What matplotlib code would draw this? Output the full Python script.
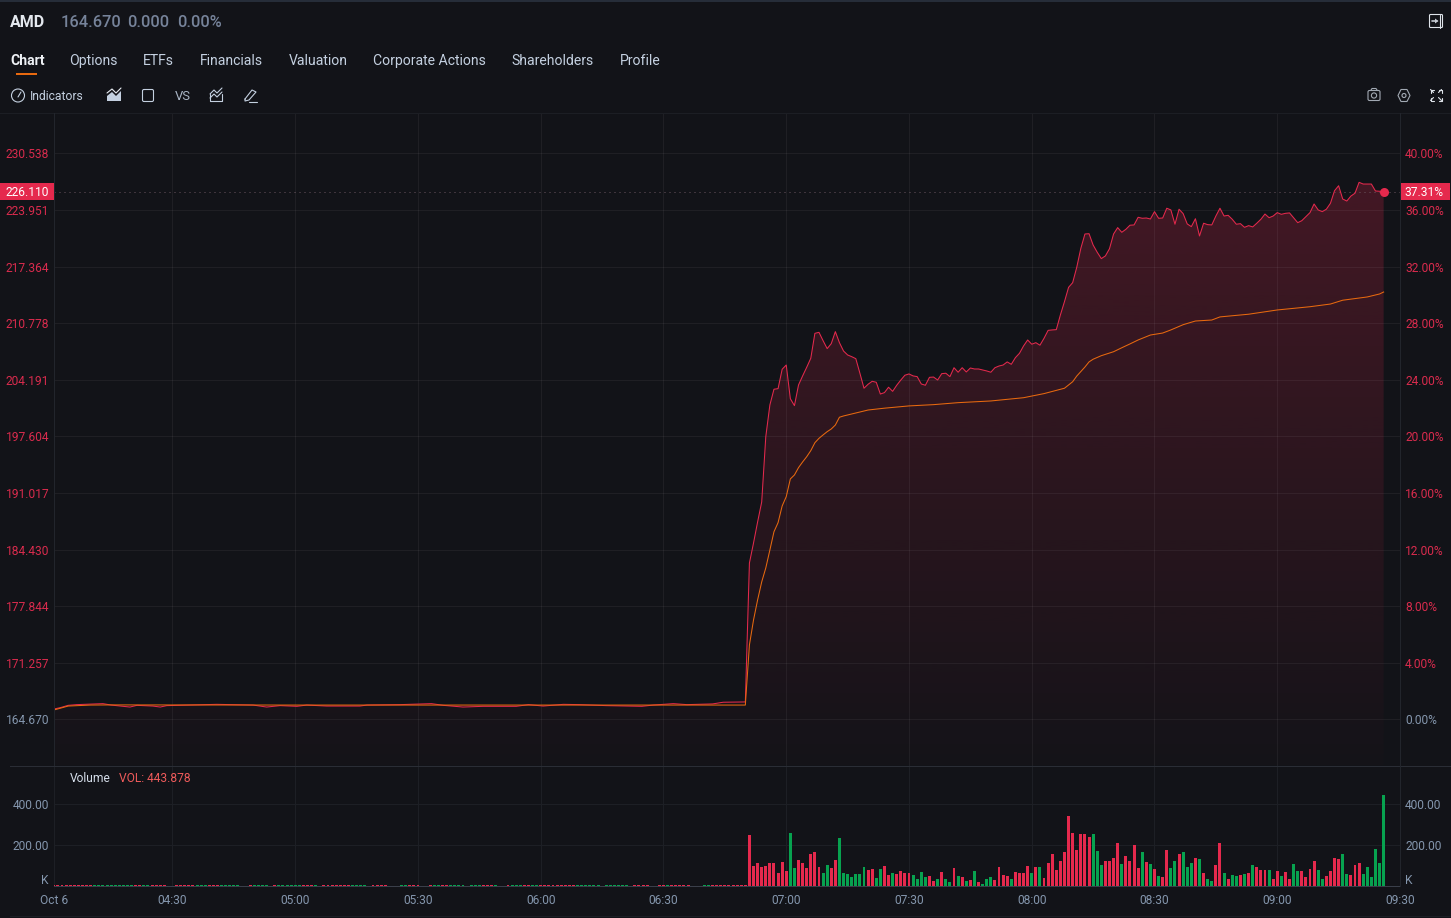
import matplotlib
matplotlib.use("Agg")
import matplotlib.pyplot as plt
from matplotlib.patches import Circle, FancyBboxPatch, Polygon, Rectangle
import numpy as np

W, H = 1451, 918
BG = "#121318"
RED = "#e5294d"
GREEN = "#07a24f"
ORANGE = "#e8690f"
GRID = "#1d1f25"
MUTED = "#8496ad"
TAB = "#c4d0e0"

plt.rcParams["font.family"] = ["Roboto", "DejaVu Sans"]

# times are minutes since midnight
tick_minutes = [241.04, 270, 300, 330, 360, 390, 420, 450, 480, 510, 540, 570]
tick_times = ["Oct 6", "04:30", "05:00", "05:30", "06:00", "06:30", "07:00", "07:30", "08:00", "08:30", "09:00", "09:30"]

pct_ticks = [0, 4, 8, 12, 16, 20, 24, 28, 32, 36, 40]
pct_labels = ["0.00%", "4.00%", "8.00%", "12.00%", "16.00%", "20.00%", "24.00%", "28.00%", "32.00%", "36.00%", "40.00%"]
price_labels = ["164.670", "171.257", "177.844", "184.430", "191.017", "197.604", "204.191", "210.778", "217.364", "223.951", "230.538"]

# premarket price, % change
pre_minutes = [241, 242.5, 244.5, 246.6, 253, 255, 259.6, 261.3, 265.2, 267, 268.6, 280.8, 289.7,
               293, 296.3, 300.4, 302.8, 307.7, 315.8, 317.5, 325.6, 333.3, 336.2, 341, 345.9,
               354, 357, 360.6, 365.5, 369.5, 376, 381.7, 384.7, 387.5, 392.4, 395.7, 402, 404.6, 410]
pre_price = [0.74, 0.83, 1.00, 1.05, 1.12, 1.02, 0.88, 1.00, 0.95, 0.88, 0.98, 1.07, 1.02,
             0.88, 0.98, 0.93, 1.02, 0.95, 0.95, 1.02, 1.05, 1.12, 1.00, 0.88, 0.93,
             0.93, 1.05, 0.95, 1.07, 1.05, 0.98, 0.95, 0.93, 1.02, 1.12, 1.05, 1.10, 1.22, 1.24]

# one value a minute from 06:51
price = [11.06, 12.47, 13.96, 15.37, 19.99, 22.23, 23.34, 23.38, 24.75, 25.05,
         22.67, 22.18, 23.64, 24.28, 24.89, 25.53, 27.29, 27.36, 26.77, 26.21,
         26.56, 27.41, 26.63, 26.04, 25.76, 25.64, 25.50, 24.47, 23.41, 23.69,
         23.90, 23.83, 23.00, 23.10, 23.48, 23.19, 23.62, 23.99, 24.33, 24.42,
         24.28, 24.23, 23.71, 23.62, 24.18, 24.20, 23.99, 24.44, 24.47, 24.23,
         24.86, 24.54, 24.86, 24.56, 24.84, 24.77, 24.77, 24.70, 24.63, 24.54,
         24.86, 24.98, 25.05, 25.27, 25.10, 25.57, 25.88, 26.40, 26.82, 26.52,
         26.63, 26.45, 26.94, 27.50, 27.53, 27.55, 28.59, 29.53, 30.54, 30.87,
         31.96, 33.30, 34.31, 34.33, 33.53, 33.02, 32.57, 32.76, 33.27, 34.31,
         34.76, 34.43, 34.64, 34.93, 34.95, 35.49, 35.42, 35.44, 35.37, 35.89,
         35.42, 35.44, 36.13, 36.01, 35.00, 36.06, 35.75, 35.02, 34.83, 35.39,
         34.17, 35.07, 34.97, 34.95, 35.58, 36.13, 35.58, 35.63, 35.35, 35.00,
         35.04, 34.78, 34.90, 34.81, 35.07, 35.35, 35.72, 35.46, 35.58, 35.82,
         35.70, 35.77, 35.80, 35.46, 35.11, 35.25, 35.53, 35.82, 36.43, 36.01,
         35.89, 36.06, 36.48, 37.37, 37.72, 36.78, 36.64, 36.99, 37.19, 37.96,
         37.84, 37.84, 37.84, 37.35, 37.33, 37.31]
price_minutes = np.arange(411, 411 + len(price))

vwap_minutes = [241, 244.5, 250, 255, 300, 360, 410,
                411, 412, 413, 414, 415, 416, 417, 418, 419, 420, 421, 422, 423, 424, 425, 426,
                427, 428, 429, 430, 431, 432, 433, 434, 437, 440, 444, 450, 456, 462, 470, 478,
                483, 488, 490, 491, 493, 494, 495, 497, 500, 502, 504, 506, 509, 512, 514, 517,
                520, 524, 526, 533, 540, 548, 553, 556, 562, 565, 566]
vwap = [0.67, 0.95, 1.02, 1.03, 1.02, 1.02, 1.02,
        5.27, 7.03, 8.45, 9.72, 10.71, 11.98, 13.27, 13.91, 15.09, 15.75, 17.00, 17.28, 17.80, 18.20, 18.57, 19.00,
        19.56, 19.87, 20.11, 20.34, 20.53, 20.81, 21.36, 21.45, 21.66, 21.87, 22.00, 22.16, 22.25, 22.39, 22.51, 22.74,
        23.03, 23.41, 23.87, 24.27, 24.91, 25.27, 25.46, 25.71, 25.99, 26.27, 26.54, 26.82, 27.17, 27.31, 27.53, 27.90,
        28.16, 28.23, 28.45, 28.64, 28.94, 29.17, 29.36, 29.63, 29.86, 30.07, 30.21]

# volume in K, one bar a minute from 06:51
volume = [250, 98, 111, 93, 98, 114, 112, 62, 115, 75,
          259, 88, 125, 112, 88, 156, 166, 94, 63, 101,
          88, 125, 236, 62, 59, 46, 60, 60, 93, 78,
          81, 39, 81, 96, 55, 62, 57, 73, 62, 63,
          54, 33, 67, 44, 50, 24, 36, 67, 33, 20,
          86, 50, 42, 26, 31, 72, 21, 10, 34, 42,
          29, 91, 55, 49, 33, 68, 63, 63, 99, 65,
          94, 91, 39, 111, 156, 78, 124, 167, 340, 259,
          176, 255, 255, 237,
          254, 169, 102, 122, 122, 138, 210, 109, 145, 124,
          198, 88, 166, 119, 107, 85, 49, 46, 176, 88,
          122, 156, 164, 93, 114, 137, 130, 65, 34, 24,
          104, 211, 65, 34, 54, 49, 52, 59, 65, 101,
          93, 78, 80, 78, 33, 75, 49, 70, 33, 107,
          75, 72, 42, 83, 122, 78, 33, 49, 72, 135,
          132, 154, 60, 54, 102, 111, 59, 91, 44, 180,
          112, 444]
volume_dirs = ("RRRRRRRRRR" "GGRRRRRRGG" "RRGGGGGGGR" "RGGRRGRRRR" "GGGGRRGRGG"
               "RGRGRGRGGG" "RRRRGRRRRG" "RGRRRRRRRR" "RRRR"
               "GGGRRRRGRR" "RRGRGRGRRG" "GRGGGRGRGG" "RRGRGGRGRG" "RRRGRRGRRG"
               "GRRRRGGRRR" "RGGRRRGGGG" "GG")
# premarket bars from 04:01, all about the same small size, '.' is no trade
pre_volume_k = 6
pre_dirs = ("RRRRRRRRRR" "GGGGGGGGGG" "RRGGRRRR.." "RRRRRGGGRR" "RGGGGG..RG"
            "GGG.RGGGGG" "GRRRG.RRRR" "RRRGGGG.RR" "RR...GGRRR" "..RGGRRGGG"
            "G.GGGRRRG." ".RGGGRRGGR" "RRRRRRRRGG" "GGGG.GGGGG" "G.RRRR..RR"
            "GRRRRR...G" "GRRRRRRRRR")


def px_axes(x0, y0, x1, y1):
    return fig.add_axes([x0 / W, 1 - y1 / H, (x1 - x0) / W, (y1 - y0) / H])


fig = plt.figure(figsize=(W / 100, H / 100), dpi=100, facecolor=BG)

# ---- price pane
ax = px_axes(54, 113, 1400, 765)
ax.set_facecolor(BG)
ymin, ymax = -3.216, 42.86
all_t = np.concatenate([pre_minutes, price_minutes])
all_p = np.concatenate([pre_price, price])

poly = ax.fill_between(all_t, all_p, ymin, color="none")
grad = np.zeros((256, 1, 4))
grad[..., 0], grad[..., 1], grad[..., 2] = 229 / 255, 41 / 255, 77 / 255
grad[:, 0, 3] = np.linspace(0.235, 0.012, 256)
im = ax.imshow(grad, extent=[all_t[0], all_t[-1], ymin, 37.96], origin="upper", aspect="auto", zorder=1)
im.set_clip_path(poly.get_paths()[0], transform=ax.transData)

ax.plot(all_t, all_p, color=RED, lw=0.75, zorder=3)
ax.plot(vwap_minutes, vwap, color=ORANGE, lw=0.75, zorder=4)
ax.plot(price_minutes[-1], price[-1], "o", color=RED, ms=6.5, mew=0, zorder=5)
ax.axhline(price[-1], color="#6a5560", lw=0.72, dashes=(1, 4), zorder=2)

ax.set_xlim(tick_minutes[0], tick_minutes[-1])
ax.set_ylim(ymin, ymax)
ax.set_xticks(tick_minutes)
ax.set_yticks(pct_ticks, price_labels, fontsize=8.64)
ax.tick_params(axis="x", length=0, labelbottom=False)
ax.tick_params(axis="y", length=0, pad=3.4, labelcolor="#d92b4d")
ax.get_yticklabels()[0].set_color(MUTED)
ax.grid(True, color="#ffffff", alpha=0.055, lw=0.72, zorder=2)
ax.set_axisbelow(False)
for s in ax.spines.values():
    s.set_visible(False)

right = ax.twinx()
right.set_ylim(ymin, ymax)
right.set_yticks(pct_ticks, pct_labels, fontsize=8.64)
right.tick_params(axis="y", length=0, pad=3.6, labelcolor="#d92b4d")
right.get_yticklabels()[0].set_color(MUTED)
for s in right.spines.values():
    s.set_visible(False)

# ---- volume pane
vax = px_axes(54, 765, 1400, 886)
vax.set_facecolor(BG)
pre_x = [241 + i for i, d in enumerate(pre_dirs) if d != "."]
pre_c = [RED if d == "R" else GREEN for d in pre_dirs if d != "."]
vax.bar(pre_x, [pre_volume_k] * len(pre_x), width=0.72, color=pre_c, zorder=3)
vax.bar(price_minutes, volume, width=0.72, color=[RED if d == "R" else GREEN for d in volume_dirs], zorder=3)
vax.set_xlim(tick_minutes[0], tick_minutes[-1])
vax.set_ylim(0, 590)
vax.set_xticks(tick_minutes, tick_times, fontsize=8.64, color=MUTED)
vax.set_yticks([200, 400], ["200.00", "400.00"], fontsize=8.64)
vax.tick_params(axis="x", length=0, pad=5.6)
vax.tick_params(axis="y", length=0, pad=3.4, labelcolor=MUTED)
vax.grid(True, color=GRID, lw=0.72, zorder=1)
vax.set_axisbelow(True)
for s in vax.spines.values():
    s.set_visible(False)
vax.spines["bottom"].set_visible(True)
vax.spines["bottom"].set_color("#3a3f4a")
vax.spines["bottom"].set_linewidth(0.72)
vright = vax.twinx()
vright.set_ylim(0, 590)
vright.set_yticks([200, 400], ["200.00", "400.00"], fontsize=8.64)
vright.tick_params(axis="y", length=0, pad=3.6, labelcolor=MUTED)
for s in vright.spines.values():
    s.set_visible(False)

# ---- header, toolbar, tags (pixel coordinates)
ui = fig.add_axes([0, 0, 1, 1], facecolor="none", zorder=10)
ui.set_xlim(0, W)
ui.set_ylim(H, 0)
ui.axis("off")


def label(x, y, s, px=12, color=TAB, ha="left", **kw):
    ui.text(x, y, s, fontsize=px * 0.72, color=color, ha=ha, va="center_baseline", **kw)


def stroke(xs, ys, color=TAB, lw=0.8):
    ui.plot(xs, ys, color=color, lw=lw, solid_capstyle="round", solid_joinstyle="round")


# frame lines
ui.plot([0, W], [0.5, 0.5], color="#2b3340", lw=1.2)
ui.plot([0, W], [113, 113], color="#1c1e24", lw=0.72)
ui.plot([10, W], [765.5, 765.5], color="#2a2d35", lw=0.72)
ui.plot([10, W], [915.5, 915.5], color="#1c1e24", lw=0.72)
ui.plot([54, 54], [113, 765], color="#22252c", lw=0.72)
ui.plot([1400, 1400], [113, 886], color="#22252c", lw=0.72)

label(10, 21, "AMD", 16, "#e4e8ee", fontweight="bold")
label(61, 21, "164.670", 16.4, "#76839a", fontweight="medium")
label(127.5, 21, "0.000", 16.4, "#76839a", fontweight="medium")
label(177, 21, "0.00%", 16.4, "#76839a", fontweight="medium")

tab_names = ["Chart", "Options", "ETFs", "Financials", "Valuation", "Corporate Actions", "Shareholders", "Profile"]
tab_x = [10.2, 69.4, 143, 200, 288.6, 373, 511.4, 620]
for x, name in zip(tab_x, tab_names):
    label(x, 59.6, name, 14, "#eef1f5" if name == "Chart" else TAB, fontweight="bold" if name == "Chart" else "normal")
ui.add_patch(Rectangle((16, 73), 21, 2, color=ORANGE, lw=0))

# toolbar icons
ui.add_patch(Circle((18, 95.5), 6.5, fill=False, ec=TAB, lw=0.8))
stroke([18, 21], [97, 92])
label(30, 95.5, "Indicators", 12.1, TAB)
ui.add_patch(Polygon([(107, 101), (107, 96), (112, 92), (116, 96), (121, 91), (121, 101)], color=TAB, lw=0))
stroke([107, 112, 116, 121], [93, 89, 93, 88], "#e8ecf2", 0.8)
ui.add_patch(FancyBboxPatch((142.5, 89.5), 11, 12, boxstyle="round,pad=0,rounding_size=1.5", fill=False, ec=TAB, lw=0.8))
label(175, 95.5, "VS", 13, "#a9b5c5")
stroke([210, 210, 222, 222], [94, 101, 101, 94], TAB)
stroke([210, 214, 217, 222], [94, 90, 93, 88], TAB)
stroke([210, 214, 217, 222], [98, 94, 97, 92], TAB)
stroke([245, 252, 256, 249, 245, 245], [99, 90, 92, 100, 101, 99], TAB)
stroke([249, 257], [102, 102], TAB)

# right icons
ui.add_patch(FancyBboxPatch((1429.5, 14.5), 13, 13, boxstyle="round,pad=0,rounding_size=1", fill=False, ec="#dfe4ea", lw=0.8))
stroke([1439.5, 1439.5], [14.5, 27.5], "#dfe4ea")
stroke([1432, 1437], [21, 21], "#c7ccd4", 1.2)
ui.add_patch(Polygon([(1435, 18.5), (1438.5, 21), (1435, 23.5)], color="#c7ccd4", lw=0))
ui.add_patch(FancyBboxPatch((1368, 90.5), 12, 10, boxstyle="round,pad=0,rounding_size=1.5", fill=False, ec="#a2a9b3", lw=0.8))
stroke([1371, 1372, 1376, 1377], [90, 88.5, 88.5, 90], "#a2a9b3")
ui.add_patch(Circle((1374, 95.5), 2.6, fill=False, ec="#a2a9b3", lw=0.8))
ui.add_patch(Polygon([(1398, 95.5), (1401, 89.5), (1407, 89.5), (1410, 95.5), (1407, 101.5), (1401, 101.5)],
                     fill=False, ec="#a2a9b3", lw=0.8, joinstyle="round"))
ui.add_patch(Circle((1404, 95.5), 2, fill=False, ec="#a2a9b3", lw=0.8))
for cx, cy, dx, dy in [(1430.5, 89.5, 1, 1), (1441.5, 89.5, -1, 1), (1430.5, 100.5, 1, -1), (1441.5, 100.5, -1, -1)]:
    stroke([cx, cx, cx + 3 * dx], [cy + 3 * dy, cy, cy], "#dfe4ea")
    stroke([cx, cx + 3 * dx], [cy, cy + 3 * dy], "#dfe4ea")

# last price tags
ui.add_patch(Rectangle((0, 183), 54, 17, color=RED, lw=0))
label(5, 191, "226.110", 12, "#ffffff")
ui.add_patch(Rectangle((1400, 183), 50, 17, color=RED, lw=0))
label(1404, 191, "37.31%", 12, "#ffffff")

label(70, 777.5, "Volume", 12, "#d5deea")
label(119, 777.5, "VOL: 443.878", 12, "#ef5b5b")
label(41, 879, "K", 12, MUTED)
label(1405, 879, "K", 12, MUTED)

fig.savefig("out.png", dpi=100, facecolor=BG)
